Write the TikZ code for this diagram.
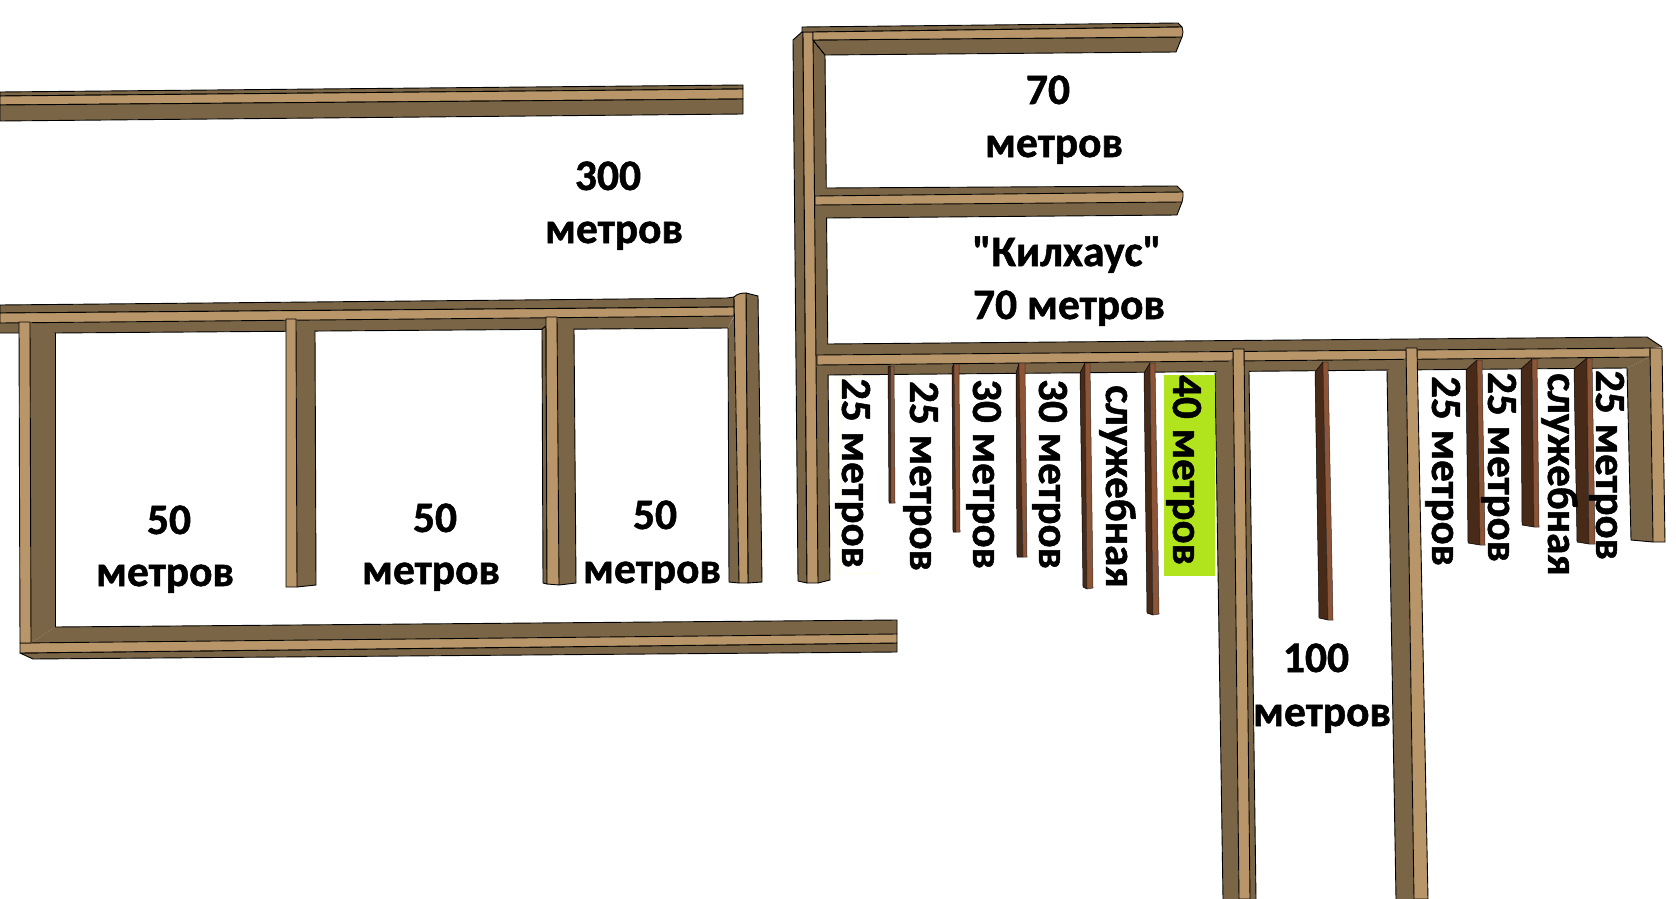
\documentclass[tikz,border=0pt]{standalone}
\usepackage{fontspec}
\newfontfamily\lblfont{Carlito}[BoldFeatures={FakeBold=1.2}]
\definecolor{woodL}{RGB}{184,150,106}
\definecolor{woodD}{RGB}{122,101,70}
\definecolor{redL}{RGB}{142,84,54}
\definecolor{redD}{RGB}{72,42,24}
\definecolor{limeG}{RGB}{178,228,30}
\definecolor{paleY}{RGB}{255,255,235}
\tikzset{
  lt/.style={fill=woodL,draw=black,line width=0.9pt,line join=round},
  dk/.style={fill=woodD,draw=black,line width=0.9pt,line join=round},
  df/.style={fill=woodD},
  ln/.style={draw=black,line width=0.9pt,line join=round},
  rl/.style={fill=redL,draw=black!80,line width=0.5pt,line join=round},
  rd/.style={fill=redD,draw=black,line width=0.5pt,line join=round},
  lab/.style={font=\lblfont\fontsize{43.5}{43.5}\selectfont\bfseries,inner sep=0pt,anchor=base,text=black},
  vlab/.style={font=\lblfont\fontsize{43}{43}\selectfont\bfseries,inner sep=0pt,anchor=base west,rotate=-90,text=black},
}
\begin{document}
\begin{tikzpicture}[x=1pt,y=-1pt]
\useasboundingbox (0,0) rectangle (1676,899);
\fill[white] (0,0) rectangle (1676,899);
% top-left beam
\draw[dk] (0,92)--(743,85)--(743,89)--(0,96)--cycle;
\draw[lt] (0,96)--(743,89)--(743,99)--(0,105)--cycle;
\draw[dk] (0,105)--(743,99)--(743,114)--(0,121)--cycle;
% middle-left beam
\draw[dk] (0,305)--(727,298)--(734,297)--(734,307)--(0,313)--cycle;
\fill[df] (0,323)--(734,316)--(728,328)--(55,333)--(0,333)--cycle;
\draw[ln] (0,333)--(55,333)--(728,328);
\draw[lt] (0,313)--(734,307)--(734,316)--(0,323)--cycle;
% bottom-left beam
\fill[df] (31,643)--(55,627)--(897,620)--(897,634)--cycle;
\draw[ln] (55,627)--(897,620)--(897,634);
\draw[dk] (20,653)--(897,643)--(897,652)--(33,659)--cycle;
\draw[lt] (20,643)--(897,634)--(897,643)--(20,653)--cycle;
% left posts
\fill[df] (30,322)--(55,333)--(55,627)--(31,643)--cycle;
\draw[ln] (55,333)--(55,627);
\draw[lt] (19,322)--(30,322)--(31,643)--(20,643)--cycle;
\fill[df] (296,320)--(315,331)--(316,585)--(297,587)--cycle;
\draw[ln] (315,331)--(316,585)--(297,587);
\draw[lt] (286,319)--(296,319)--(297,587)--(286,587)--cycle;
\draw[dk] (542,329)--(546,326)--(547,584)--(543,583)--cycle;
\fill[df] (557,317)--(574,329)--(576,583)--(559,585)--cycle;
\draw[ln] (574,329)--(576,583)--(559,585);
\draw[lt] (546,317)--(557,317)--(559,585)--(547,584)--cycle;
\fill[df] (728,328)--(734,317)--(739,583)--(729,582)--cycle;
\draw[ln] (728,328)--(729,582)--(739,583);
\draw[dk] (746,293)--(758,296)--(762,582)--(748,583)--cycle;
\draw[lt] (734,297) .. controls (737,294) and (741,293) .. (746,293)--(748,583)--(739,583)--cycle;
% main vertical post
\draw[dk] (793,40)--(803,31)--(807,583)--(798,581)--cycle;
\fill[df] (813,40)--(825,55)--(830,580)--(818,583)--cycle;
\draw[ln] (813,40)--(825,55)--(830,580)--(818,583);
\draw[lt] (803,32)--(813,32)--(818,583)--(807,583)--cycle;
% top beam
\draw[dk] (802,27)--(1178,23)--(1182,27)--(813,32)--(802,32)--cycle;
\draw[dk] (813,40)--(1182,37)--(1176,52)--(825,55)--cycle;
\draw[lt] (813,32)--(1182,27)--(1183,32)--(1182,37)--(813,40)--cycle;
% middle beam
\fill[df] (815,196)--(827,188)--(1177,186)--(1183,192)--cycle;
\draw[ln] (827,188)--(1177,186)--(1183,192);
\fill[df] (815,205)--(1182,202)--(1177,215)--(827,218)--cycle;
\draw[ln] (1182,202)--(1177,215)--(827,218);
\draw[lt] (815,196)--(1183,192)--(1183,197)--(1182,202)--(815,205)--cycle;
% lower long beam
\fill[df] (817,355)--(828,344)--(1647,337)--(1662,347)--(1650,348)--cycle;
\draw[ln] (828,344)--(1647,337)--(1662,347);
\fill[df] (817,365)--(1650,357)--(1627,368)--(828,375)--cycle;
\draw[ln] (828,375)--(1627,368);
\draw[lt] (817,355)--(1650,348)--(1650,357)--(817,365)--cycle;
% right end post
\fill[df] (1627,368)--(1650,357)--(1653,542)--(1631,540)--cycle;
\draw[ln] (1627,368)--(1631,540)--(1653,542);
\draw[lt] (1650,348)--(1662,348)--(1665,542)--(1653,542)--cycle;
% tall posts
\fill[df] (1215,373)--(1233,358)--(1239,899)--(1223,899)--cycle;
\draw[ln] (1215,373)--(1223,899);
\fill[df] (1244,360)--(1249,372)--(1256,899)--(1250,899)--cycle;
\draw[ln] (1249,372)--(1256,899);
\draw[lt] (1233,349)--(1244,349)--(1250,899)--(1239,899)--cycle;
\fill[df] (1387,371)--(1406,358)--(1414,899)--(1396,899)--cycle;
\draw[ln] (1387,371)--(1396,899);
\draw[lt] (1406,348)--(1417,348)--(1428,899)--(1414,899)--cycle;
% thin boards
\draw[rd] (888,366)--(890.5,366)--(891,503)--(889,503)--cycle;
\draw[rl] (890.5,366)--(894,366)--(895,503)--(891,503)--cycle;
\draw[rd] (952,368)--(954,364)--(956,532)--(953,532)--cycle;
\draw[rl] (954,364)--(959,364)--(960,532)--(956,532)--cycle;
\draw[rd] (1016,373)--(1019,363)--(1023,557)--(1017,557)--cycle;
\draw[rl] (1019,363)--(1025,363)--(1027,557)--(1023,557)--cycle;
\draw[rd] (1080,373)--(1085,363)--(1087,589)--(1083,587)--cycle;
\draw[rl] (1085,363)--(1090,363)--(1093,588)--(1087,589)--cycle;
\draw[rd] (1144,373)--(1150,363)--(1153,615)--(1147,613)--cycle;
\draw[rl] (1150,363)--(1155,363)--(1159,614)--(1153,615)--cycle;
\draw[rd] (1315,372)--(1323,362)--(1328,620)--(1319,618)--cycle;
\draw[rl] (1323,362)--(1328,362)--(1333,620)--(1328,620)--cycle;
\draw[rd] (1466,370)--(1477,360)--(1480,545)--(1468,543)--cycle;
\draw[rl] (1477,360)--(1482,360)--(1485,545)--(1480,545)--cycle;
\draw[rd] (1521,369)--(1532,359)--(1534,527)--(1522,525)--cycle;
\draw[rl] (1532,359)--(1537,359)--(1539,527)--(1534,527)--cycle;
\draw[rd] (1574,369)--(1587,358)--(1589,544)--(1577,542)--cycle;
\draw[rl] (1587,358)--(1592,358)--(1595,544)--(1589,544)--cycle;
% label backgrounds
\node[fill=limeG,minimum width=51pt,minimum height=201pt,inner sep=0pt] (greenbox) at (1189.5,475.5) {};
\node[draw=paleY,line width=0.5pt,minimum width=39pt,minimum height=197pt,inner sep=0pt] (palebox) at (857.5,474.5) {};
% horizontal labels
\node[lab] (t300) at (608,190) {300};
\node[lab] (m300) at (614,243) {метров};
\node[lab] (t70) at (1048,104) {70};
\node[lab] (m70) at (1054,157) {метров};
\node[lab] (kh) at (1067,266) {"Килхаус"};
\node[lab] (k70) at (1069,319) {70 метров};
\node[lab] (a50) at (169,534) {50};
\node[lab] (am) at (165,586) {метров};
\node[lab] (b50) at (435,532) {50};
\node[lab] (bm) at (431,584) {метров};
\node[lab] (c50) at (655,529) {50};
\node[lab] (cm) at (652,583) {метров};
\node[lab] (h100) at (1316,672) {100};
\node[lab] (hm) at (1322,726) {метров};
% rotated labels
\node[vlab] (v1) at (842,378) {25 метров};
\node[vlab] (v2) at (910,381) {25 метров};
\node[vlab] (v3) at (973,379) {30 метров};
\node[vlab] (v4) at (1039,379) {30 метров};
\node[vlab] (v5) at (1106,385) {служебная};
\node[vlab] (v6) at (1173,375) {40 метров};
\node[vlab] (v7) at (1432,376) {25 метров};
\node[vlab] (v8) at (1488,372) {25 метров};
\node[vlab] (v9) at (1548,373) {служебная};
\node[vlab] (v10) at (1596,370) {25 метров};
\end{tikzpicture}
\end{document}
